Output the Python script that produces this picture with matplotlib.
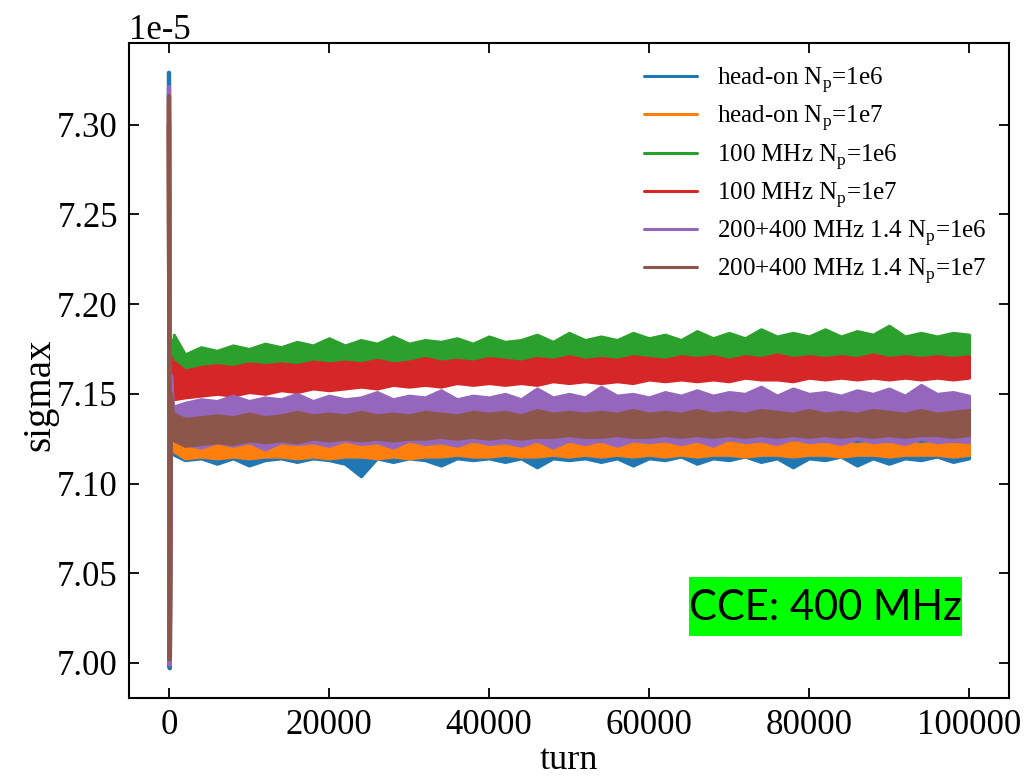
import matplotlib
matplotlib.use("Agg")
import matplotlib.pyplot as plt
from matplotlib.patches import Rectangle

plt.rcParams["font.family"] = ["Liberation Serif", "DejaVu Serif"]
plt.rcParams["mathtext.fontset"] = "custom"
plt.rcParams["mathtext.rm"] = "Liberation Serif"
plt.rcParams["axes.unicode_minus"] = False

# sigmax in units of 1e-5, sampled along the turn axis (band envelopes)
turn_grid = [600] + list(range(2000, 100001, 2000))

# first turns: strong oscillation before the beam settles
start_turns = [0, 100, 250, 600]

labels = [
    r"head-on N$_\mathrm{p}$=1e6",
    r"head-on N$_\mathrm{p}$=1e7",
    r"100 MHz N$_\mathrm{p}$=1e6",
    r"100 MHz N$_\mathrm{p}$=1e7",
    r"200+400 MHz 1.4 N$_\mathrm{p}$=1e6",
    r"200+400 MHz 1.4 N$_\mathrm{p}$=1e7",
]
colors = ["#1f77b4", "#ff7f0e", "#2ca02c", "#d62728", "#9467bd", "#8c564b"]

headon_1e6_start = [7.329, 6.997, 7.160, 7.122]
headon_1e7_start = [7.310, 7.010, 7.160, 7.123]
mhz100_1e6_start = [7.300, 7.020, 7.180, 7.170]
mhz100_1e7_start = [7.300, 7.020, 7.170, 7.158]
mhz200_1e6_start = [7.321, 6.999, 7.160, 7.134]
mhz200_1e7_start = [7.316, 7.002, 7.150, 7.131]

headon_1e6_hi = [7.128, 7.125, 7.124, 7.125, 7.124, 7.126, 7.125, 7.126, 7.125, 7.126,
                 7.125, 7.126, 7.125, 7.127, 7.126, 7.126, 7.127, 7.126, 7.127, 7.126,
                 7.127, 7.126, 7.127, 7.126, 7.127, 7.127, 7.126, 7.127, 7.126, 7.127,
                 7.127, 7.128, 7.127, 7.127, 7.128, 7.127, 7.128, 7.127, 7.128, 7.127,
                 7.128, 7.127, 7.128, 7.127, 7.128, 7.128, 7.127, 7.128, 7.127, 7.128, 7.128]
headon_1e6_lo = [7.116, 7.113, 7.114, 7.111, 7.114, 7.110, 7.113, 7.114, 7.112, 7.114,
                 7.113, 7.111, 7.104, 7.114, 7.112, 7.114, 7.113, 7.110, 7.114, 7.113,
                 7.114, 7.112, 7.114, 7.109, 7.114, 7.113, 7.114, 7.112, 7.114, 7.110,
                 7.114, 7.113, 7.115, 7.111, 7.114, 7.113, 7.115, 7.112, 7.114, 7.109,
                 7.114, 7.113, 7.115, 7.110, 7.114, 7.111, 7.114, 7.113, 7.115, 7.112, 7.114]

headon_1e7_hi = [7.129, 7.124, 7.123, 7.122, 7.123, 7.122, 7.123, 7.122, 7.123, 7.123,
                 7.122, 7.123, 7.122, 7.123, 7.122, 7.123, 7.123, 7.122, 7.123, 7.122,
                 7.123, 7.122, 7.123, 7.122, 7.123, 7.122, 7.123, 7.122, 7.123, 7.123,
                 7.122, 7.123, 7.122, 7.123, 7.122, 7.123, 7.122, 7.123, 7.122, 7.123,
                 7.123, 7.122, 7.123, 7.122, 7.123, 7.122, 7.123, 7.122, 7.123, 7.122, 7.123]
headon_1e7_lo = [7.118, 7.114, 7.115, 7.114, 7.115, 7.114, 7.115, 7.115, 7.114, 7.115,
                 7.114, 7.115, 7.115, 7.114, 7.115, 7.114, 7.115, 7.115, 7.116, 7.115,
                 7.115, 7.116, 7.115, 7.115, 7.116, 7.115, 7.116, 7.115, 7.116, 7.115,
                 7.116, 7.115, 7.116, 7.115, 7.116, 7.116, 7.115, 7.116, 7.116, 7.115,
                 7.116, 7.116, 7.115, 7.116, 7.116, 7.115, 7.116, 7.116, 7.116, 7.115, 7.116]

mhz100_1e6_hi = [7.183, 7.172, 7.176, 7.174, 7.177, 7.175, 7.178, 7.176, 7.179, 7.177,
                 7.181, 7.177, 7.180, 7.178, 7.182, 7.178, 7.180, 7.179, 7.181, 7.178,
                 7.182, 7.179, 7.180, 7.183, 7.179, 7.184, 7.180, 7.182, 7.180, 7.184,
                 7.181, 7.183, 7.180, 7.185, 7.181, 7.184, 7.181, 7.186, 7.182, 7.184,
                 7.182, 7.186, 7.182, 7.185, 7.183, 7.188, 7.182, 7.184, 7.182, 7.184, 7.183]
mhz100_1e6_lo = [7.160, 7.152, 7.151, 7.152, 7.151, 7.153, 7.152, 7.153, 7.152, 7.154,
                 7.153, 7.154, 7.155, 7.154, 7.155, 7.156, 7.155, 7.156, 7.157, 7.156,
                 7.157, 7.157, 7.158, 7.157, 7.158, 7.158, 7.159, 7.158, 7.159, 7.159,
                 7.160, 7.159, 7.160, 7.160, 7.161, 7.160, 7.161, 7.160, 7.161, 7.161,
                 7.162, 7.161, 7.162, 7.161, 7.162, 7.162, 7.163, 7.162, 7.163, 7.162, 7.163]

mhz100_1e7_hi = [7.168, 7.163, 7.165, 7.166, 7.165, 7.167, 7.166, 7.167, 7.166, 7.168,
                 7.167, 7.168, 7.167, 7.169, 7.167, 7.168, 7.170, 7.168, 7.169, 7.168,
                 7.170, 7.169, 7.168, 7.170, 7.169, 7.171, 7.169, 7.170, 7.169, 7.171,
                 7.170, 7.169, 7.171, 7.170, 7.171, 7.169, 7.171, 7.170, 7.172, 7.170,
                 7.171, 7.170, 7.171, 7.170, 7.172, 7.170, 7.171, 7.170, 7.171, 7.170, 7.171]
mhz100_1e7_lo = [7.147, 7.148, 7.149, 7.150, 7.149, 7.151, 7.150, 7.152, 7.151, 7.153,
                 7.152, 7.153, 7.154, 7.153, 7.155, 7.154, 7.155, 7.154, 7.156, 7.155,
                 7.156, 7.155, 7.156, 7.155, 7.157, 7.156, 7.157, 7.156, 7.157, 7.156,
                 7.158, 7.157, 7.158, 7.157, 7.158, 7.157, 7.159, 7.158, 7.158, 7.157,
                 7.159, 7.158, 7.159, 7.158, 7.159, 7.158, 7.159, 7.158, 7.159, 7.158, 7.159]

mhz200_1e6_hi = [7.143, 7.145, 7.147, 7.146, 7.149, 7.146, 7.148, 7.147, 7.150, 7.146,
                 7.149, 7.147, 7.148, 7.151, 7.147, 7.149, 7.148, 7.152, 7.147, 7.149,
                 7.148, 7.150, 7.147, 7.153, 7.148, 7.150, 7.148, 7.154, 7.149, 7.150,
                 7.148, 7.151, 7.149, 7.152, 7.149, 7.151, 7.150, 7.154, 7.149, 7.153,
                 7.150, 7.151, 7.149, 7.152, 7.150, 7.153, 7.149, 7.155, 7.150, 7.151, 7.149]
mhz200_1e6_lo = [7.125, 7.122, 7.120, 7.123, 7.121, 7.123, 7.119, 7.123, 7.122, 7.123,
                 7.121, 7.124, 7.122, 7.123, 7.120, 7.124, 7.122, 7.123, 7.121, 7.124,
                 7.122, 7.123, 7.121, 7.124, 7.120, 7.124, 7.122, 7.124, 7.121, 7.124,
                 7.123, 7.124, 7.122, 7.124, 7.121, 7.125, 7.123, 7.124, 7.122, 7.125,
                 7.123, 7.124, 7.122, 7.125, 7.123, 7.124, 7.122, 7.125, 7.123, 7.124, 7.123]

mhz200_1e7_hi = [7.139, 7.136, 7.137, 7.138, 7.137, 7.139, 7.137, 7.138, 7.140, 7.138,
                 7.139, 7.138, 7.140, 7.138, 7.139, 7.138, 7.140, 7.139, 7.138, 7.140,
                 7.139, 7.140, 7.138, 7.141, 7.139, 7.140, 7.139, 7.140, 7.139, 7.141,
                 7.139, 7.140, 7.139, 7.141, 7.139, 7.140, 7.139, 7.141, 7.140, 7.139,
                 7.141, 7.139, 7.140, 7.139, 7.141, 7.140, 7.139, 7.141, 7.139, 7.140, 7.141]
mhz200_1e7_lo = [7.124, 7.121, 7.122, 7.123, 7.122, 7.124, 7.123, 7.124, 7.123, 7.125,
                 7.124, 7.125, 7.124, 7.125, 7.124, 7.125, 7.125, 7.126, 7.125, 7.126,
                 7.125, 7.126, 7.125, 7.126, 7.126, 7.127, 7.126, 7.126, 7.127, 7.126,
                 7.126, 7.127, 7.126, 7.127, 7.126, 7.127, 7.126, 7.127, 7.126, 7.127,
                 7.126, 7.127, 7.126, 7.127, 7.126, 7.127, 7.126, 7.127, 7.127, 7.126, 7.127]

starts = [headon_1e6_start, headon_1e7_start, mhz100_1e6_start,
          mhz100_1e7_start, mhz200_1e6_start, mhz200_1e7_start]
uppers = [headon_1e6_hi, headon_1e7_hi, mhz100_1e6_hi,
          mhz100_1e7_hi, mhz200_1e6_hi, mhz200_1e7_hi]
lowers = [headon_1e6_lo, headon_1e7_lo, mhz100_1e6_lo,
          mhz100_1e7_lo, mhz200_1e6_lo, mhz200_1e7_lo]

SCALE = 1e-5

fig = plt.figure(figsize=(10.26, 7.78), dpi=100)
ax = fig.add_axes([0.1257, 0.1028, 0.8577, 0.8419])

for i, (lab, col, st, hi, lo) in enumerate(zip(labels, colors, starts, uppers, lowers)):
    z = 2 + 0.1 * i
    ax.fill_between(turn_grid, [v * SCALE for v in lo], [v * SCALE for v in hi],
                    color=col, lw=2.2, edgecolor=col, joinstyle="round", zorder=z)
    ax.plot(start_turns, [v * SCALE for v in st], color=col, lw=3.2,
            solid_capstyle="round", zorder=z + 0.05, label=lab)

ax.set_xlim(-5000, 105000)
ax.margins(y=0.05)
ax.set_xticks([0, 20000, 40000, 60000, 80000, 100000])
ax.ticklabel_format(axis="y", style="sci", scilimits=(0, 0))
ax.tick_params(direction="in", top=True, right=True, length=7, width=1.3,
               labelsize=25, pad=8)
ax.yaxis.get_offset_text().set_fontsize(25)
for s in ax.spines.values():
    s.set_linewidth(1.5)

ax.set_xlabel("turn", fontsize=26, labelpad=1)
ax.set_ylabel("sigmax", fontsize=28)
ax.yaxis.set_label_coords(-0.08, 0.463)

leg = ax.legend(loc="upper right", frameon=False, fontsize=18, handlelength=2.1,
                handletextpad=0.8, labelspacing=0.34)
for h in leg.get_lines():
    h.set_linewidth(2.2)

# green label box for the cavity setting
ax.add_patch(Rectangle((0.636, 0.0947), 0.311, 0.0905, transform=ax.transAxes,
                       facecolor="#00ff00", edgecolor="none", zorder=4))
ax.text(0.7915, 0.138, "CCE: 400 MHz", transform=ax.transAxes, ha="center",
        va="center", fontsize=30, family="Lato", zorder=5)

fig.savefig("out.png", dpi=100)
